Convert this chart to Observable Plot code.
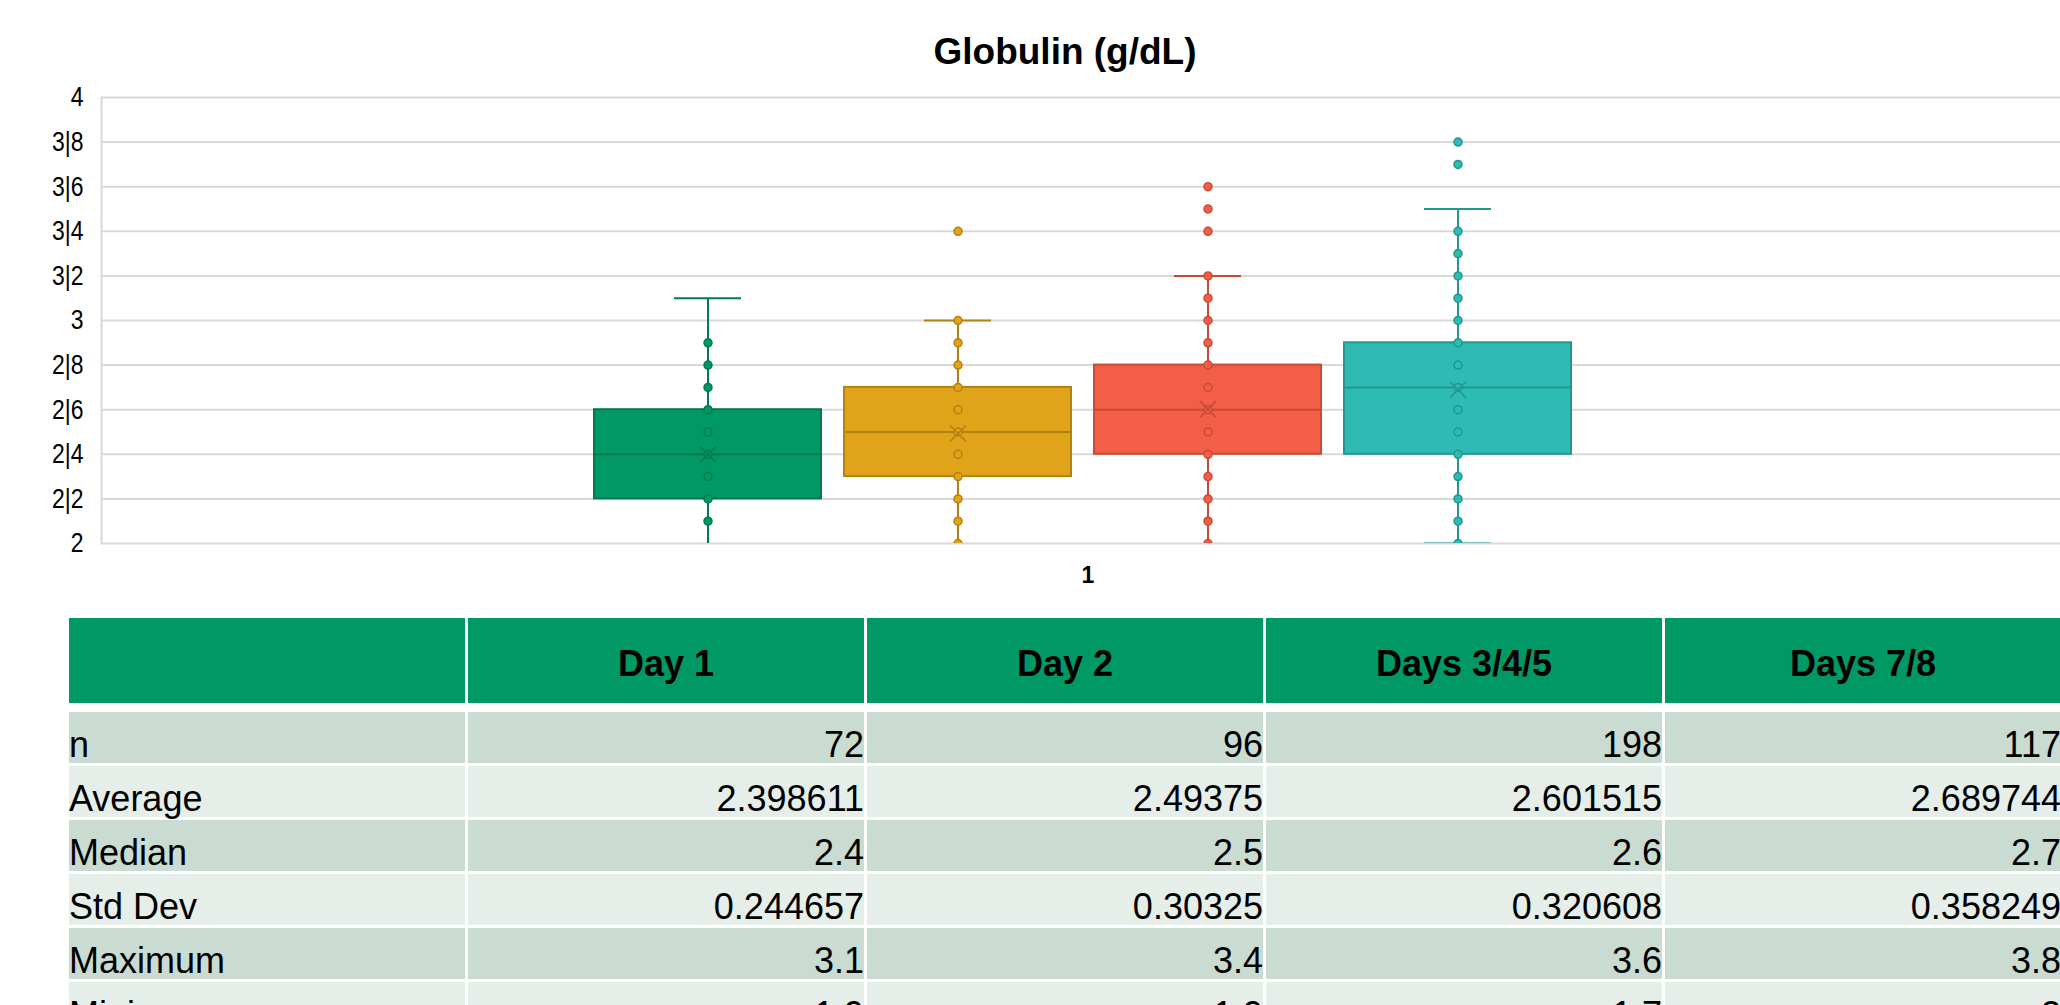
<!DOCTYPE html>
<html>
<head>
<meta charset="utf-8">
<script src="https://cdn.jsdelivr.net/npm/d3@7"></script>
<script src="https://cdn.jsdelivr.net/npm/@observablehq/plot@0.6"></script>
<style>
html, body { margin: 0; padding: 0; overflow: hidden; background: #fff; width: 2060px; height: 1005px; }
#wrap { position: relative; width: 2130px; height: 1005px; }
#title { height: 80px; box-sizing: border-box; padding-top: 33px; text-align: center;
  font: bold 37px/37px "Liberation Sans", Arial, sans-serif; color: #000; }
#chart svg { display: block; overflow: visible; }
#table { position: absolute; left: 69px; top: 618px; display: grid;
  grid-template-columns: repeat(5, 396px); grid-template-rows: 85px 3px repeat(6, 51px);
  column-gap: 3px; row-gap: 3px; font-family: "Liberation Sans", Arial, sans-serif; font-size: 36px; color: #000; }
#table .h { background: #009966; font-weight: bold; display: flex; align-items: center; justify-content: center; padding-top: 6px; box-sizing: border-box; line-height: 36px; }
#table .sp { background: transparent; }
#table .c { display: flex; align-items: flex-end; line-height: 36px; white-space: nowrap; }
#table .lab { justify-content: flex-start; }
#table .val { justify-content: flex-end; }
#table .dark { background: #cadcd2; }
#table .light { background: #e5eee9; }
</style>
</head>
<body>
<div id="wrap">
  <div id="title"></div>
  <div id="chart"></div>
  <div id="table"></div>
</div>
<script>
// ---- data ----
const chartTitle = "Globulin (g/dL)";
const categories = ["1"];
const series = ["Day 1", "Day 2", "Days 3/4/5", "Days 7/8"];
const q1 = [2.2, 2.3, 2.4, 2.4];
const q3 = [2.6, 2.7, 2.8, 2.9];
const medians = [2.4, 2.5, 2.6, 2.7];
const means = [2.398611, 2.49375, 2.601515, 2.689744];
const whiskerLow = [1.9, 1.9, 1.7, 2.0];
const whiskerHigh = [3.1, 3.0, 3.2, 3.5];
const pointsDay1 = [2.1, 2.2, 2.3, 2.4, 2.5, 2.6, 2.7, 2.8, 2.9];
const pointsDay2 = [2.0, 2.1, 2.2, 2.3, 2.4, 2.5, 2.6, 2.7, 2.8, 2.9, 3.0, 3.4];
const pointsDays345 = [2.0, 2.1, 2.2, 2.3, 2.4, 2.5, 2.6, 2.7, 2.8, 2.9, 3.0, 3.1, 3.2, 3.4, 3.5, 3.6];
const pointsDays78 = [2.0, 2.1, 2.2, 2.3, 2.4, 2.5, 2.6, 2.7, 2.8, 2.9, 3.0, 3.1, 3.2, 3.3, 3.4, 3.7, 3.8];
const yTicks = [2, 2.2, 2.4, 2.6, 2.8, 3, 3.2, 3.4, 3.6, 3.8, 4];
const yTickLabels = ["2", "2|2", "2|4", "2|6", "2|8", "3", "3|2", "3|4", "3|6", "3|8", "4"];

// table
const tableRowLabels = ["n", "Average", "Median", "Std Dev", "Maximum", "Minimum"];
const tableN = ["72", "96", "198", "117"];
const tableAverage = ["2.398611", "2.49375", "2.601515", "2.689744"];
const tableMedian = ["2.4", "2.5", "2.6", "2.7"];
const tableStdDev = ["0.244657", "0.30325", "0.320608", "0.358249"];
const tableMaximum = ["3.1", "3.4", "3.6", "3.8"];
const tableMinimum = ["1.9", "1.9", "1.7", "2"];

// ---- styles ----
const fills = ["#009966", "#e1a31a", "#f25e47", "#2dbbb3"];
const darks = ["#007a52", "#b4820f", "#c94a36", "#22968f"];

document.getElementById("title").textContent = chartTitle;

const pointSets = [pointsDay1, pointsDay2, pointsDays345, pointsDays78];
const boxData = series.map((s, i) => ({
  category: categories[0], series: s, q1: q1[i], q3: q3[i], median: medians[i], mean: means[i],
  lo: whiskerLow[i], hi: whiskerHigh[i], fill: fills[i], dark: darks[i]
}));
const pointData = series.flatMap((s, i) => pointSets[i].map(v => ({
  category: categories[0], series: s, value: v, fill: fills[i], dark: darks[i]
})));

const chart = Plot.plot({
  width: 2130, height: 520,
  marginTop: 17, marginBottom: 57, marginLeft: 101, marginRight: 66,
  style: { fontFamily: "'Liberation Sans', Arial, sans-serif", color: "#000", background: "transparent" },
  fx: { domain: categories, padding: 0, label: null },
  x: { domain: series, paddingInner: 0.093, paddingOuter: 1.968, axis: null },
  y: { domain: [2, 4], label: null },
  color: { type: "identity" },
  marks: [
    Plot.gridY(yTicks, { stroke: "#d9d9d9", strokeOpacity: 1, strokeWidth: 2 }),
    Plot.frame({ anchor: "left", stroke: "#d9d9d9", strokeWidth: 2 }),
    Plot.axisY(yTicks, {
      tickSize: 0, tickPadding: 18, fontSize: 28,
      tickFormat: (d) => yTickLabels[yTicks.indexOf(d)], label: null
    }),
    Plot.axisFx({ anchor: "bottom", tickSize: 0, tickPadding: 23, fontSize: 23, fontWeight: "bold", dx: 5, label: null }),
    Plot.ruleX(boxData, { fx: "category", x: "series", y1: "lo", y2: "q1", stroke: "dark", strokeWidth: 2, clip: true }),
    Plot.ruleX(boxData, { fx: "category", x: "series", y1: "q3", y2: "hi", stroke: "dark", strokeWidth: 2, clip: true }),
    Plot.tickY(boxData, { fx: "category", x: "series", y: "hi", stroke: "dark", strokeWidth: 2, inset: 80, clip: true }),
    Plot.tickY(boxData, { fx: "category", x: "series", y: "lo", stroke: "dark", strokeWidth: 2, inset: 80, clip: true }),
    Plot.barY(boxData, { fx: "category", x: "series", y1: "q1", y2: "q3", fill: "fill", stroke: "dark", strokeWidth: 2, inset: 0, clip: true }),
    Plot.tickY(boxData, { fx: "category", x: "series", y: "median", stroke: "dark", strokeWidth: 2, clip: true }),
    Plot.dot(pointData, { fx: "category", x: "series", y: "value", r: 4, fill: "fill", stroke: "dark", strokeWidth: 1.5, clip: true }),
    Plot.dot(boxData, { fx: "category", x: "series", y: "mean", symbol: "times", r: 7.3, stroke: "dark", strokeWidth: 1.5, clip: true })
  ]
});
document.getElementById("chart").appendChild(chart);

// condensed look for the y tick labels (the reference uses a narrow face)
chart.querySelectorAll('g[aria-label="y-axis tick label"] text').forEach(t => {
  const len = t.getComputedTextLength();
  t.setAttribute("lengthAdjust", "spacingAndGlyphs");
  t.setAttribute("textLength", (len * 0.82).toFixed(2));
});

// ---- table ----
const tbl = document.getElementById("table");
function cell(cls, text) {
  const d = document.createElement("div");
  d.className = cls;
  d.textContent = text;
  tbl.appendChild(d);
}
cell("h", "");
series.forEach(s => cell("h", s));
for (let i = 0; i < 5; i++) cell("sp", "");
const tableValues = [tableN, tableAverage, tableMedian, tableStdDev, tableMaximum, tableMinimum];
tableRowLabels.forEach((lab, r) => {
  const shade = r % 2 === 0 ? "dark" : "light";
  cell("c lab " + shade, lab);
  tableValues[r].forEach(v => cell("c val " + shade, v));
});
</script>
</body>
</html>
